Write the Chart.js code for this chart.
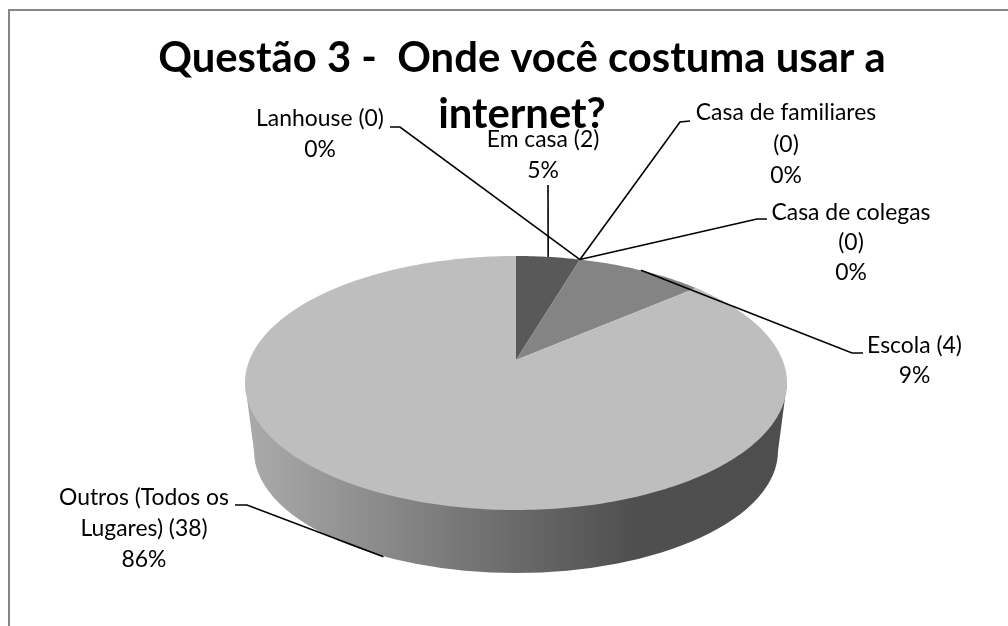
<!DOCTYPE html>
<html lang="pt">
<head>
<meta charset="utf-8">
<title>Questão 3</title>
<script src="https://cdn.jsdelivr.net/npm/chart.js@4"></script>
<style>
    html, body { margin: 0; padding: 0; background: #fff; }
    #wrap { position: relative; width: 1008px; height: 626px; }
</style>
</head>
<body>
<div id="wrap"><canvas id="pieChart"></canvas></div>
<script>
const titleLines = ['Questão 3 -  Onde você costuma usar a', 'internet?'];
const categories = ['Em casa', 'Lanhouse', 'Casa de familiares', 'Casa de colegas', 'Escola', 'Outros (Todos os Lugares)'];
const answers = [2, 0, 0, 0, 4, 38];
const percents = ['5%', '0%', '0%', '0%', '9%', '86%'];
const sliceColors = ['#595959', '#6e6e6e', '#747474', '#7a7a7a', '#848484', '#bebebe'];

// wrapped label text, one entry per slice
const labelLines = [
    ['Em casa (2)', percents[0]],
    ['Lanhouse (0)', percents[1]],
    ['Casa de familiares', '(0)', percents[2]],
    ['Casa de colegas', '(0)', percents[3]],
    ['Escola (4)', percents[4]],
    ['Outros (Todos os', 'Lugares) (38)', percents[5]]
];
// centre of each label block, first line y, line height
const labelBoxes = [
    { x: 543, y: 140, lh: 31 },
    { x: 320, y: 119, lh: 31 },
    { x: 786, y: 113, lh: 31.5 },
    { x: 851, y: 213, lh: 30 },
    { x: 914.5, y: 346, lh: 30 },
    { x: 144, y: 498, lh: 31 }
];
// leader lines start at the label and bend once before reaching the pie
const leaderBends = [
    [[548, 185]],
    [[390, 127], [400, 127]],
    [[690, 121], [680, 122]],
    [[767, 219], [757, 219]],
    [[863, 353], [852, 353]],
    [[235, 505], [247, 505]]
];

const topEllipse = { x: 516, y: 383, rx: 271, ry: 127 };
const bottomEllipse = { x: 516, y: 451, rx: 262, ry: 122 };
// how far the slice centre sits above the ellipse centre (perspective)
const apexShift = -23 / 127;
const depth = bottomEllipse.y + bottomEllipse.ry - topEllipse.y - topEllipse.ry;

// project a chart angle on the pie rim to screen, keeping the rim elliptical
function rimPoint(angle, ell) {
    const cx = Math.cos(angle), cy = Math.sin(angle);
    const den = 1 + apexShift * cy;
    const px = cx * Math.sqrt(1 - apexShift * apexShift) / den;
    const py = (cy + apexShift) / den;
    return { x: ell.x + px * ell.rx, y: ell.y + py * ell.ry };
}

function apexPoint() {
    return { x: topEllipse.x, y: topEllipse.y + apexShift * topEllipse.ry };
}

function drawWall(ctx) {
    const grad = ctx.createLinearGradient(245, 0, 786, 0);
    grad.addColorStop(0, '#ababab');
    grad.addColorStop(0.5, '#6a6a6a');
    grad.addColorStop(0.72, '#4f4f4f');
    grad.addColorStop(1, '#4e4e4e');
    ctx.fillStyle = grad;
    ctx.beginPath();
    ctx.moveTo(topEllipse.x - topEllipse.rx, topEllipse.y);
    ctx.lineTo(bottomEllipse.x - bottomEllipse.rx, bottomEllipse.y);
    ctx.ellipse(bottomEllipse.x, bottomEllipse.y, bottomEllipse.rx, bottomEllipse.ry, 0, Math.PI, 0, true);
    ctx.lineTo(topEllipse.x + topEllipse.rx, topEllipse.y);
    ctx.closePath();
    ctx.fill();
}

function drawSlice(ctx, arc, color) {
    const { startAngle, endAngle } = arc.getProps(['startAngle', 'endAngle'], true);
    if (endAngle - startAngle <= 0) return;
    const apex = apexPoint();
    ctx.fillStyle = color;
    ctx.beginPath();
    ctx.moveTo(apex.x, apex.y);
    const steps = Math.max(4, Math.ceil((endAngle - startAngle) * 60));
    for (let i = 0; i <= steps; i++) {
        const p = rimPoint(startAngle + (endAngle - startAngle) * i / steps, topEllipse);
        ctx.lineTo(p.x, p.y);
    }
    ctx.closePath();
    ctx.fill();
}

const pie3d = {
    id: 'pie3d',
    beforeDraw(chart) {
        const ctx = chart.ctx;
        ctx.save();
        ctx.strokeStyle = '#868686';
        ctx.lineWidth = 2;
        ctx.beginPath();
        ctx.moveTo(9, 626);
        ctx.lineTo(9, 10);
        ctx.lineTo(1008, 10);
        ctx.stroke();
        ctx.restore();
    },
    // slices are squashed and shifted here, so the stock circular draw is skipped
    beforeDatasetDraw(chart) {
        const ctx = chart.ctx;
        const arcs = chart.getDatasetMeta(0).data;
        ctx.save();
        drawWall(ctx);
        arcs.forEach((arc, i) => drawSlice(ctx, arc, sliceColors[i]));
        ctx.restore();
        return false;
    },
    afterDatasetsDraw(chart) {
        const ctx = chart.ctx;
        const arcs = chart.getDatasetMeta(0).data;
        ctx.save();
        ctx.strokeStyle = '#000';
        ctx.lineWidth = 1.6;
        ctx.font = '22.9px Lato';
        ctx.textAlign = 'center';
        ctx.textBaseline = 'middle';
        ctx.fillStyle = '#000';
        arcs.forEach((arc, i) => {
            const { startAngle, endAngle } = arc.getProps(['startAngle', 'endAngle'], true);
            const mid = (startAngle + endAngle) / 2;
            const end = rimPoint(mid, topEllipse);
            // the largest slice is labelled from the lower edge of its wall
            if (i === answers.length - 1) end.y += depth;
            ctx.beginPath();
            leaderBends[i].forEach((p, k) => k ? ctx.lineTo(p[0], p[1]) : ctx.moveTo(p[0], p[1]));
            ctx.lineTo(end.x, end.y);
            ctx.stroke();
            const box = labelBoxes[i];
            labelLines[i].forEach((line, k) => ctx.fillText(line, box.x, box.y + k * box.lh));
        });
        ctx.restore();
    }
};

new Chart(document.getElementById('pieChart'), {
    type: 'pie',
    data: {
        labels: categories,
        datasets: [{ data: answers, backgroundColor: sliceColors, borderWidth: 0 }]
    },
    options: {
        responsive: true,
        maintainAspectRatio: false,
        animation: false,
        layout: { padding: { left: 36 } },
        plugins: {
            legend: { display: false },
            tooltip: { enabled: false },
            title: {
                display: true,
                text: titleLines,
                color: '#000',
                font: { family: 'Lato', size: 41.8, weight: 'bold', lineHeight: 1.34 },
                padding: { top: 31, bottom: 0 }
            }
        }
    },
    plugins: [pie3d]
});
</script>
</body>
</html>
